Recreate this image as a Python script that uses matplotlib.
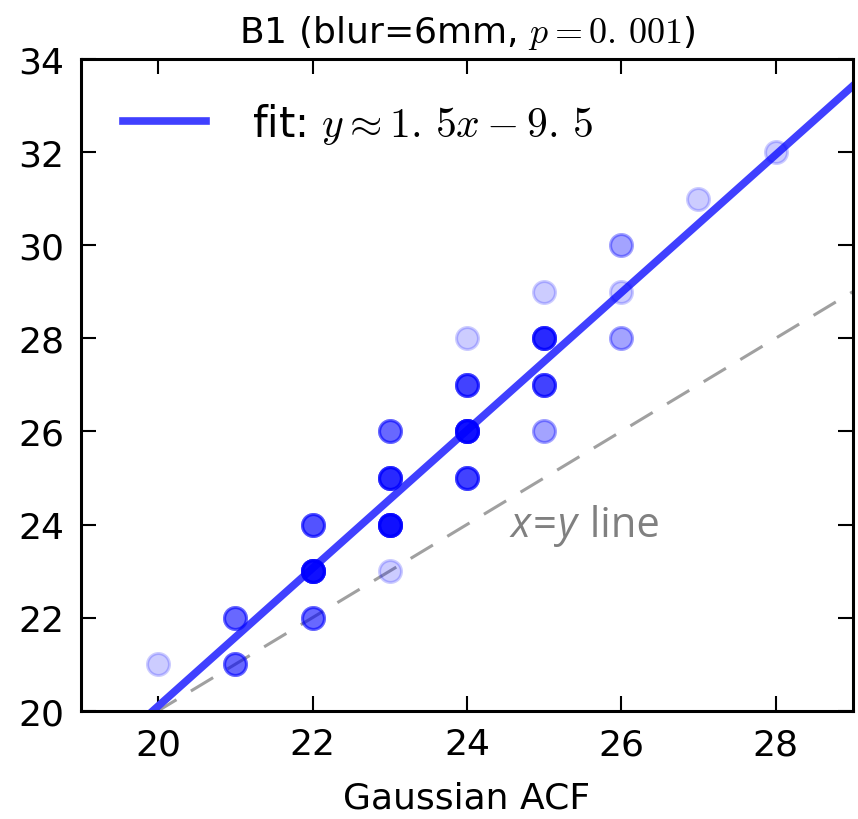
import numpy as np
import matplotlib
matplotlib.use("Agg")
import matplotlib.pyplot as plt

plt.rcParams["mathtext.fontset"] = "cm"
plt.rcParams["font.family"] = "DejaVu Sans"

# scatter points (Gaussian ACF vs. other estimate), with how many overlap at each spot
acf_x = [20, 21, 21, 22, 22, 22, 23, 23, 23, 23, 24, 24, 24, 24, 25, 25, 25, 25, 26, 26, 26, 27, 28]
est_y = [21, 22, 21, 24, 23, 22, 26, 25, 24, 23, 28, 27, 26, 25, 29, 28, 27, 26, 30, 29, 28, 31, 32]
counts = [1, 4, 4, 5, 12, 4, 4, 8, 12, 1, 1, 6, 12, 6, 1, 8, 6, 2, 2, 1, 2, 1, 1]

fit_slope = 1.48
fit_intercept = -9.5
fit_label = r"fit: $y\approx 1.\,5x-9.\,5$"
title = r"B1 (blur=6mm, $p=0.\,001$)"

xs = np.repeat(acf_x, counts)
ys = np.repeat(est_y, counts)

fig = plt.figure(figsize=(8.58, 8.2), dpi=100)
ax = fig.add_axes([0.0944, 0.132, 0.8996, 0.795])

xr = np.array([19, 29])
ax.plot(xr, xr, color="#a0a0a0", lw=2.2, ls=(0, (8.5, 5.5)), zorder=1)
ax.plot(xr, fit_slope * xr + fit_intercept, color="#4040ff", lw=5.5,
        label=fit_label, zorder=2)
ax.scatter(xs, ys, s=250, color="blue", alpha=0.2, lw=2.2, zorder=3)

# x=y annotation, built from pieces so x and y are italic
t = ax.text(24.56, 24.0, "x", color="gray", fontsize=30, family="Open Sans",
            style="italic", va="center")
for piece, st in [("=", "normal"), ("y", "italic"), (" line", "normal")]:
    t = ax.annotate(piece, xy=(1, 0), xytext=(1.5, 0), textcoords="offset points",
                    xycoords=t, va="bottom", color="gray",
                    fontsize=30, family="Open Sans", style=st)

ax.set_xlim(19, 29)
ax.set_ylim(20, 34)
ax.set_xticks([20, 22, 24, 26, 28])
ax.set_yticks(range(20, 35, 2))
ax.tick_params(direction="in", length=11, width=1.5, labelsize=26,
               top=True, right=True, pad=12)
for sp in ax.spines.values():
    sp.set_linewidth(2.2)

ax.set_xlabel("Gaussian ACF", fontsize=26, labelpad=14)
ax.set_title(title, fontsize=26, pad=12)
ax.legend(loc="upper left", frameon=False, fontsize=30, handlelength=2.0,
          handletextpad=1.1, borderaxespad=0.5, borderpad=0.5)

fig.savefig("out.png", dpi=100)
